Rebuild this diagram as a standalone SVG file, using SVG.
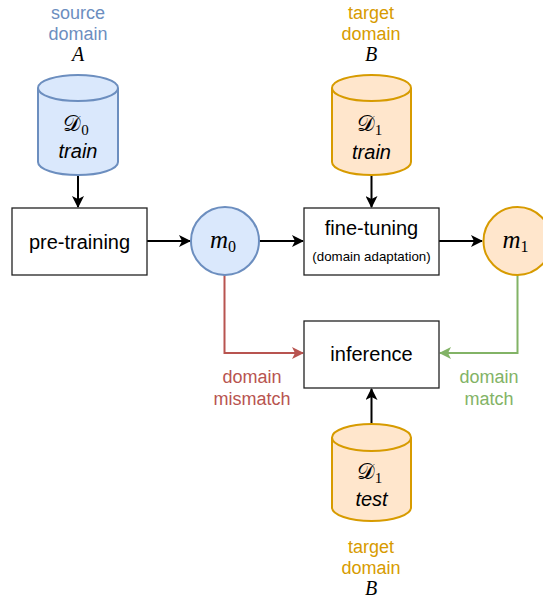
<svg xmlns="http://www.w3.org/2000/svg" width="543" height="601" viewBox="0 0 543 601">
<style>
.box{fill:#fff;stroke:#222;stroke-width:1.3}
.blue{fill:#dae8fc;stroke:#6c8ebf;stroke-width:2}
.orange{fill:#ffe6cc;stroke:#d79b00;stroke-width:2}
.t{font-family:"Liberation Sans",Arial,sans-serif;font-size:20px;fill:#000;text-anchor:middle}
.small{font-size:13.3px}
.lbl{font-family:"Liberation Sans",Arial,sans-serif;font-size:18px;text-anchor:middle}
.math{font-family:"Liberation Serif","DejaVu Serif",serif;font-style:italic;text-anchor:middle;fill:#000}
.cal{font-family:"DejaVu Serif","Liberation Serif",serif;font-size:22px;text-anchor:middle;fill:#000}
.it{font-style:italic}
.cn{fill:none;stroke-width:2}
</style>
<defs>
<marker id="ab" markerUnits="userSpaceOnUse" markerWidth="12" markerHeight="12" refX="11" refY="6" orient="auto" viewBox="0 0 12 12">
<path d="M0,0 L12,6 L0,12 L3,6 Z" fill="#000"/>
</marker>
<marker id="ar" markerUnits="userSpaceOnUse" markerWidth="12" markerHeight="12" refX="11" refY="6" orient="auto" viewBox="0 0 12 12">
<path d="M0,0 L12,6 L0,12 L3,6 Z" fill="#b85450"/>
</marker>
<marker id="ag" markerUnits="userSpaceOnUse" markerWidth="12" markerHeight="12" refX="11" refY="6" orient="auto" viewBox="0 0 12 12">
<path d="M0,0 L12,6 L0,12 L3,6 Z" fill="#82b366"/>
</marker>
</defs>

<g id="labels">
<text class="lbl" x="78" y="19" fill="#6c8ebf">source</text>
<text class="lbl" x="78" y="40" fill="#6c8ebf">domain</text>
<text class="math" x="78" y="61" font-size="20">A</text>
<text class="lbl" x="371" y="19" fill="#d79b00">target</text>
<text class="lbl" x="371" y="40" fill="#d79b00">domain</text>
<text class="math" x="371" y="61" font-size="20">B</text>
<text class="lbl" x="252" y="383" fill="#b85450">domain</text>
<text class="lbl" x="252" y="405" fill="#b85450">mismatch</text>
<text class="lbl" x="489" y="383" fill="#82b366">domain</text>
<text class="lbl" x="489" y="405" fill="#82b366">match</text>
<text class="lbl" x="371" y="553" fill="#d79b00">target</text>
<text class="lbl" x="371" y="574" fill="#d79b00">domain</text>
<text class="math" x="371" y="595" font-size="20">B</text>
</g>

<g id="connectors">
<path class="cn" d="M78,175 L78,207" stroke="#000" marker-end="url(#ab)"/>
<path class="cn" d="M371.5,175 L371.5,207" stroke="#000" marker-end="url(#ab)"/>
<path class="cn" d="M147,241 L190,241" stroke="#000" marker-end="url(#ab)"/>
<path class="cn" d="M259,241 L303,241" stroke="#000" marker-end="url(#ab)"/>
<path class="cn" d="M439,241 L482,241" stroke="#000" marker-end="url(#ab)"/>
<path class="cn" d="M371.5,424 L371.5,389" stroke="#000" marker-end="url(#ab)"/>
<path class="cn" d="M224.5,275 L224.5,353 L303,353" stroke="#b85450" marker-end="url(#ar)"/>
<path class="cn" d="M517.5,275 L517.5,353 L440,353" stroke="#82b366" marker-end="url(#ag)"/>
</g>

<g id="d0-train">
<path class="blue" d="M38,88 L38,162 A40,13 0 0 0 118,162 L118,88"/>
<ellipse class="blue" cx="78" cy="88" rx="40" ry="13"/>
<text class="cal" x="76" y="131">𝒟<tspan font-size="15" dy="4" font-family="Liberation Serif">0</tspan></text>
<text class="t it" x="78" y="158">train</text>
</g>

<g id="d1-train">
<path class="orange" d="M332,88 L332,162 A39.5,13 0 0 0 411,162 L411,88"/>
<ellipse class="orange" cx="371.5" cy="88" rx="39.5" ry="13"/>
<text class="cal" x="369.5" y="131">𝒟<tspan font-size="15" dy="4" font-family="Liberation Serif">1</tspan></text>
<text class="t it" x="371.5" y="159">train</text>
</g>

<g id="d1-test">
<path class="orange" d="M332,437.5 L332,507.5 A39.5,13.5 0 0 0 411,507.5 L411,437.5"/>
<ellipse class="orange" cx="371.5" cy="437.5" rx="39.5" ry="13.5"/>
<text class="cal" x="369.5" y="479">𝒟<tspan font-size="15" dy="4" font-family="Liberation Serif">1</tspan></text>
<text class="t it" x="371.5" y="506">test</text>
</g>

<g id="pre-training">
<rect class="box" x="12" y="208" width="135" height="67"/>
<text class="t" x="79.5" y="248.5">pre-training</text>
</g>

<g id="m0">
<circle class="blue" cx="225" cy="241" r="34"/>
<text class="math" x="223" y="248" font-size="25">m<tspan font-size="16" dy="4" font-style="normal">0</tspan></text>
</g>

<g id="fine-tuning">
<rect class="box" x="304" y="208" width="135" height="67"/>
<text class="t" x="371.5" y="235">fine-tuning</text>
<text class="t small" x="371.5" y="261">(domain adaptation)</text>
</g>

<g id="m1">
<circle class="orange" cx="517.5" cy="241" r="34"/>
<text class="math" x="515.5" y="248" font-size="25">m<tspan font-size="16" dy="4" font-style="normal">1</tspan></text>
</g>

<g id="inference">
<rect class="box" x="304" y="321" width="135" height="67"/>
<text class="t" x="371.5" y="361">inference</text>
</g>
</svg>
